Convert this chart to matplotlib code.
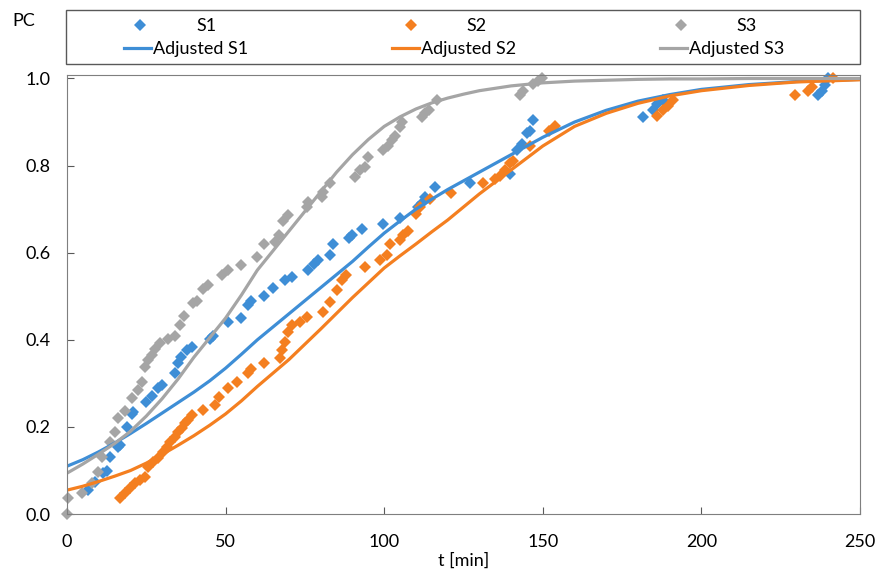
import matplotlib
matplotlib.use("Agg")
import matplotlib.pyplot as plt
from matplotlib.patches import Rectangle

plt.rcParams['font.family'] = ['Lato', 'DejaVu Sans']

# measured points
s1_t = [6.6, 8.8, 11.4, 12.6, 13.6, 16.0, 16.7, 18.8, 20.5, 20.8, 25.0, 26.8, 28.7, 29.9, 34.0, 35.0,
        36.0, 37.8, 39.4, 45.0, 46.0, 50.8, 55.0, 57.0, 58.0, 62.0, 65.0, 68.8, 71.0, 76.0, 78.0, 79.0,
        83.0, 84.0, 89.0, 90.0, 93.0, 99.7, 105.0, 110.7, 112.0, 113.0, 116.0, 127.0, 139.7, 142.0,
        143.5, 145.0, 146.0, 147.0, 181.6, 184.8, 186.0, 188.0, 236.8, 238.0, 239.0, 240.0]
s1_y = [0.055, 0.073, 0.094, 0.10, 0.131, 0.154, 0.158, 0.20, 0.23, 0.235, 0.257, 0.27, 0.29, 0.296,
        0.323, 0.346, 0.36, 0.376, 0.384, 0.403, 0.41, 0.44, 0.45, 0.48, 0.49, 0.50, 0.52, 0.537, 0.544,
        0.56, 0.575, 0.583, 0.594, 0.62, 0.633, 0.64, 0.655, 0.667, 0.68, 0.705, 0.715, 0.727, 0.75,
        0.76, 0.78, 0.835, 0.85, 0.874, 0.88, 0.904, 0.911, 0.927, 0.942, 0.95, 0.961, 0.972, 0.984, 1.0]

s2_t = [16.7, 18.3, 19.9, 21.4, 23.0, 24.6, 25.5, 27.2, 28.7, 30.3, 31.5, 32.5, 34.0, 35.0, 36.2, 37.2,
        38.2, 39.4, 43.0, 46.7, 48.0, 50.8, 53.6, 57.0, 58.0, 62.0, 67.0, 67.8, 68.7, 69.7, 71.0, 73.5,
        75.6, 80.7, 83.0, 85.0, 86.7, 88.0, 94.0, 98.7, 100.9, 101.8, 105.0, 106.0, 107.5, 110.0, 111.3,
        114.4, 121.0, 131.0, 135.0, 136.5, 138.0, 139.7, 140.5, 146.0, 152.0, 154.0, 186.0, 188.0,
        189.5, 191.0, 229.5, 233.6, 235.0, 241.5]
s2_y = [0.037, 0.048, 0.06, 0.071, 0.078, 0.085, 0.108, 0.12, 0.128, 0.142, 0.154, 0.165, 0.177, 0.188,
        0.197, 0.209, 0.216, 0.227, 0.239, 0.25, 0.268, 0.289, 0.303, 0.323, 0.334, 0.346, 0.358, 0.376,
        0.394, 0.417, 0.433, 0.44, 0.452, 0.463, 0.486, 0.514, 0.537, 0.548, 0.567, 0.583, 0.594, 0.62,
        0.63, 0.64, 0.651, 0.69, 0.704, 0.724, 0.736, 0.761, 0.77, 0.777, 0.789, 0.805, 0.81, 0.846,
        0.88, 0.892, 0.915, 0.927, 0.938, 0.95, 0.961, 0.972, 0.98, 1.0]

s3_t = [0.0, 0.3, 4.6, 8.0, 9.8, 11.0, 13.6, 15.0, 16.0, 18.3, 20.5, 22.4, 23.6, 24.6, 25.5, 26.8, 27.7,
        29.3, 31.8, 34.0, 35.6, 37.0, 39.8, 41.0, 43.0, 44.5, 48.8, 50.8, 55.0, 60.0, 62.0, 65.6, 66.7,
        68.0, 69.7, 75.6, 76.0, 80.4, 80.7, 83.0, 90.8, 92.4, 94.0, 95.0, 99.7, 101.3, 102.5, 103.4,
        105.0, 105.6, 112.0, 113.0, 114.0, 116.6, 142.8, 143.8, 147.0, 148.5, 149.7]
s3_y = [0.0, 0.037, 0.048, 0.071, 0.096, 0.131, 0.165, 0.188, 0.22, 0.237, 0.266, 0.284, 0.303, 0.337,
        0.353, 0.365, 0.38, 0.392, 0.403, 0.41, 0.433, 0.454, 0.484, 0.49, 0.517, 0.525, 0.548, 0.56,
        0.571, 0.59, 0.62, 0.624, 0.64, 0.674, 0.686, 0.704, 0.716, 0.727, 0.74, 0.76, 0.773, 0.789,
        0.796, 0.82, 0.835, 0.846, 0.858, 0.869, 0.888, 0.90, 0.911, 0.92, 0.927, 0.95, 0.961, 0.972,
        0.988, 0.995, 1.0]

# adjusted curves
fit_t = [0, 5, 10, 15, 20, 25, 30, 35, 40, 45, 50, 55, 60, 65, 70, 75, 80, 85, 90, 95, 100, 105, 110,
         115, 120, 125, 130, 140, 150, 160, 170, 180, 190, 200, 215, 230, 250]
fit1_y = [0.11, 0.125, 0.143, 0.163, 0.185, 0.208, 0.232, 0.256, 0.28, 0.306, 0.335, 0.367, 0.40,
          0.43, 0.46, 0.49, 0.52, 0.55, 0.58, 0.613, 0.645, 0.673, 0.70, 0.723, 0.745, 0.765, 0.785,
          0.825, 0.865, 0.90, 0.927, 0.948, 0.963, 0.975, 0.986, 0.993, 0.998]
fit2_y = [0.055, 0.064, 0.075, 0.087, 0.10, 0.117, 0.137, 0.158, 0.18, 0.204, 0.23, 0.26, 0.293,
          0.324, 0.355, 0.39, 0.425, 0.461, 0.497, 0.531, 0.565, 0.593, 0.62, 0.648, 0.675, 0.705,
          0.735, 0.79, 0.845, 0.89, 0.92, 0.943, 0.96, 0.972, 0.984, 0.992, 0.997]
fit3_y = [0.094, 0.115, 0.138, 0.162, 0.19, 0.225, 0.265, 0.31, 0.36, 0.405, 0.45, 0.503, 0.56,
          0.605, 0.65, 0.695, 0.74, 0.785, 0.825, 0.86, 0.89, 0.912, 0.93, 0.944, 0.955, 0.964, 0.972,
          0.983, 0.99, 0.994, 0.996, 0.998, 0.999, 0.999, 1.0, 1.0, 1.0]

c1 = '#3E8ED6'
c2 = '#F47F20'
c3 = '#A5A5A5'

fig = plt.figure(figsize=(8.77, 5.77), dpi=100)
ax = fig.add_axes([0.0764, 0.109, 0.9042, 0.761])

p1, = ax.plot(s1_t, s1_y, 'D', color=c1, ms=6.5, mew=0, clip_on=False, label='S1')
p2, = ax.plot(s2_t, s2_y, 'D', color=c2, ms=6.5, mew=0, clip_on=False, label='S2')
p3, = ax.plot(s3_t, s3_y, 'D', color=c3, ms=6.5, mew=0, clip_on=False, label='S3')
l1, = ax.plot(fit_t, fit1_y, '-', color=c1, lw=2.3, label='Adjusted S1')
l2, = ax.plot(fit_t, fit2_y, '-', color=c2, lw=2.3, label='Adjusted S2')
l3, = ax.plot(fit_t, fit3_y, '-', color=c3, lw=2.3, label='Adjusted S3')

ax.set_xlim(0, 250)
ax.set_ylim(0, 1.008)
ax.set_xticks([0, 50, 100, 150, 200, 250])
ax.set_yticks([0.0, 0.2, 0.4, 0.6, 0.8, 1.0])
ax.set_yticklabels(['0.0', '0.2', '0.4', '0.6', '0.8', '1.0'])
ax.tick_params(direction='in', length=5, color='#595959', labelsize=13)
ax.tick_params(axis='x', pad=14)
ax.tick_params(axis='y', pad=12)
for s in ax.spines.values():
    s.set_color('#7F7F7F')
ax.set_xlabel('t [min]', fontsize=13, labelpad=2)

# legend: markers row and lines row, inside one box
leg1 = fig.legend([p1, p2, p3], ['S1', 'S2', 'S3'], ncol=3, loc='center left',
                  bbox_to_anchor=(126 / 877, 1 - 26 / 577), frameon=False, fontsize=13,
                  borderpad=0, borderaxespad=0, handlelength=1.6, handletextpad=2.3,
                  columnspacing=9.95)
leg2 = fig.legend([l1, l2, l3], ['Adjusted S1', 'Adjusted S2', 'Adjusted S3'], ncol=3,
                  loc='center left', bbox_to_anchor=(124 / 877, 1 - 49 / 577), frameon=False,
                  fontsize=13, borderpad=0, borderaxespad=0, handlelength=1.5,
                  handletextpad=0.1, columnspacing=7.98)
fig.patches.append(Rectangle((66 / 877, 1 - 64 / 577), 794 / 877, 54 / 577,
                             transform=fig.transFigure, fill=False, ec='#595959', lw=1.0))

fig.text(0.014, 0.963, 'PC', fontsize=13, ha='left', va='center')

fig.savefig('out.png', dpi=100)
